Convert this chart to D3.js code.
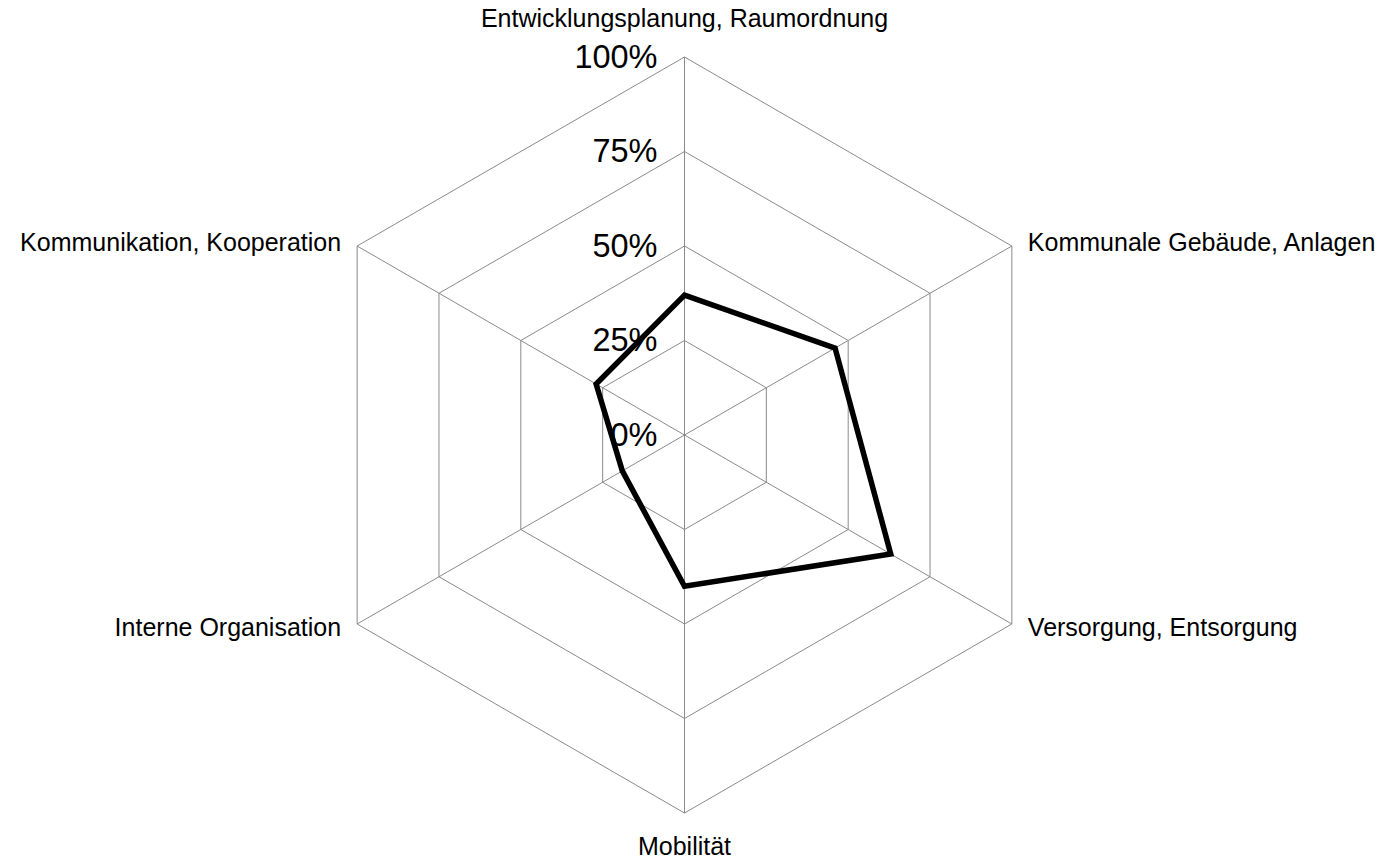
<!DOCTYPE html>
<html lang="de">
<head>
  <meta charset="UTF-8">
  <title>D3 -- Netzdiagramm</title>
  <style>
    html, body {
      margin: 0;
      padding: 0;
      background: #fff;
    }

    svg {
      display: block;
    }

    .grid line,
    .grid path {
      fill: none;
      stroke: #8a8a8a;
      stroke-width: 1;
    }

    .tick-label {
      font: 32.5px "Liberation Sans", Arial, sans-serif;
      fill: #000;
    }

    .cat-label {
      font: 25px "Liberation Sans", Arial, sans-serif;
      fill: #000;
    }
  </style>
</head>
<body>
<div class="radar-box"></div>
</body>
<script src="https://d3js.org/d3.v7.min.js"></script>
<script>
  // Daten
  let categories = [
    'Entwicklungsplanung, Raumordnung',
    'Kommunale Gebäude, Anlagen',
    'Versorgung, Entsorgung',
    'Mobilität',
    'Interne Organisation',
    'Kommunikation, Kooperation'
  ]
  let values = [37, 46, 63, 40, 19, 27]
  let tickValues = [0, 25, 50, 75, 100]
  let tickLabels = ['0%', '25%', '50%', '75%', '100%']

  // Layout
  let width = 1387
  let height = 860
  let cx = 684.5
  let cy = 435
  let radius = 378

  let svg = d3.select('.radar-box').append('svg')
    .attr('width', width)
    .attr('height', height)

  let rScale = d3.scaleLinear().domain([0, 100]).range([0, radius])
  let aScale = d3.scaleLinear().domain([0, categories.length]).range([0, 2 * Math.PI])

  function point (i, v) {
    let a = aScale(i)
    return [cx + rScale(v) * Math.sin(a), cy - rScale(v) * Math.cos(a)]
  }

  let ringLine = d3.line().curve(d3.curveLinearClosed)

  // Gitter
  let grid = svg.append('g').attr('class', 'grid')
  grid.selectAll('.ring')
    .data(tickValues.filter(d => d > 0))
    .enter().append('path')
    .attr('class', 'ring')
    .attr('d', v => ringLine(categories.map((c, i) => point(i, v))))

  grid.selectAll('.spoke')
    .data(categories)
    .enter().append('line')
    .attr('class', 'spoke')
    .attr('x1', cx)
    .attr('y1', cy)
    .attr('x2', (d, i) => point(i, 100)[0])
    .attr('y2', (d, i) => point(i, 100)[1])

  // Achsenbeschriftung
  svg.selectAll('.tick-label')
    .data(tickValues)
    .enter().append('text')
    .attr('class', 'tick-label')
    .attr('x', cx - 27)
    .attr('y', d => cy - rScale(d))
    .attr('dy', '0.33em')
    .attr('text-anchor', 'end')
    .text((d, i) => tickLabels[i])

  // Kategorien
  svg.selectAll('.cat-label')
    .data(categories)
    .enter().append('text')
    .attr('class', 'cat-label')
    .attr('x', (d, i) => {
      let p = point(i, 100)
      if (i === 1 || i === 2) return p[0] + 16
      if (i === 4 || i === 5) return p[0] - 16
      return p[0]
    })
    .attr('y', (d, i) => {
      let p = point(i, 100)
      if (i === 0) return p[1] - 30
      if (i === 3) return p[1] + 42
      if (i === 1 || i === 5) return p[1] + 5
      return p[1] + 12
    })
    .attr('text-anchor', (d, i) => {
      if (i === 1 || i === 2) return 'start'
      if (i === 4 || i === 5) return 'end'
      return 'middle'
    })
    .text(d => d)

  // Datenlinie
  svg.append('path')
    .attr('d', ringLine(values.map((v, i) => point(i, v))))
    .attr('fill', 'none')
    .attr('stroke', '#000')
    .attr('stroke-width', 5.5)
    .attr('stroke-linejoin', 'miter')
</script>
</html>
